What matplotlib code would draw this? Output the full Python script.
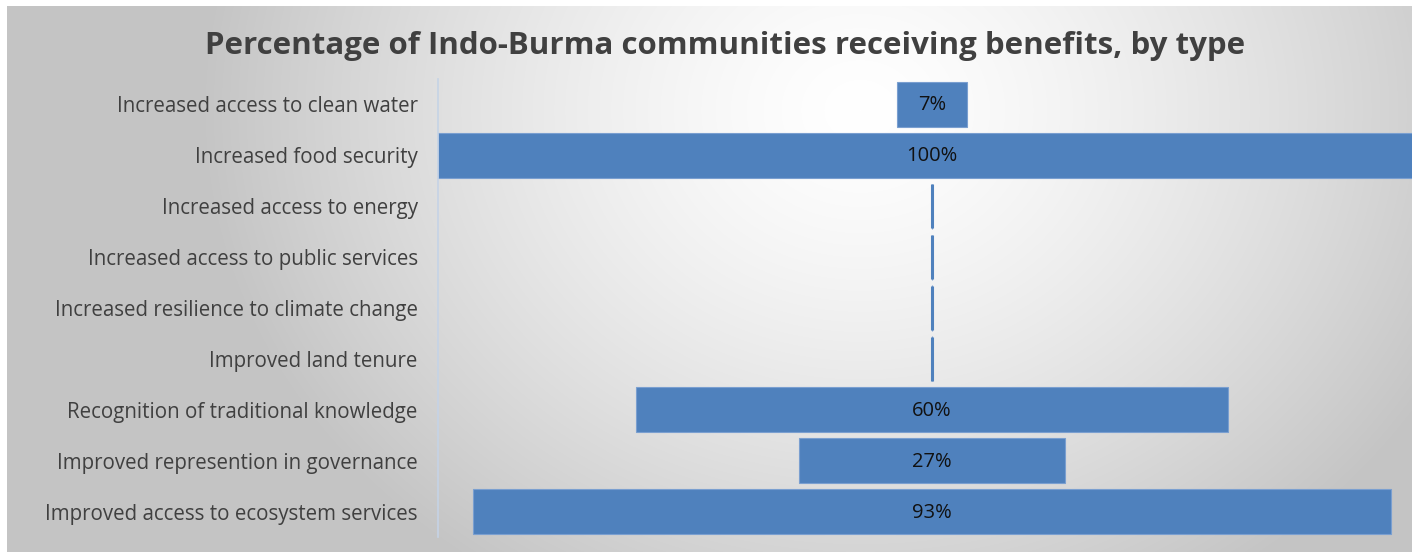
import numpy as np
import matplotlib
matplotlib.use("Agg")
import matplotlib.pyplot as plt

categories = [
    "Increased access to clean water",
    "Increased food security",
    "Increased access to energy",
    "Increased access to public services",
    "Increased resilience to climate change",
    "Improved land tenure",
    "Recognition of traditional knowledge",
    "Improved represention in governance",
    "Improved access to ecosystem services",
]
percentages = [7, 100, 0, 0, 0, 0, 60, 27, 93]
title = "Percentage of Indo-Burma communities receiving benefits, by type"

W, H, DPI = 1412, 554, 100
fig = plt.figure(figsize=(W / DPI, H / DPI), dpi=DPI)
fig.patch.set_facecolor("white")

# radial grey background of the chart area
yy, xx = np.mgrid[0:H, 0:W]
r = np.sqrt(((xx - 860) / 660.0) ** 2 + ((yy - 110) / 560.0) ** 2)
t = np.clip(r, 0, 1) ** 1.4
lo = np.array([0.77, 0.77, 0.77])
bg = (1 - t)[..., None] * np.array([1.0, 1.0, 1.0]) + t[..., None] * lo
bg[:6, :, :] = 1.0
bg[:, :7, :] = 1.0
bg[552:, :, :] = 1.0
bax = fig.add_axes([0, 0, 1, 1], zorder=0)
bax.imshow(bg, aspect="auto", interpolation="bilinear")
bax.axis("off")

left = 438 / W
width = 988 / W
bottom = 1 - 537 / H
top = 1 - 79 / H
ax = fig.add_axes([left, bottom, width, top - bottom], zorder=1)
ax.patch.set_alpha(0)

n = len(categories)
ypos = np.arange(n)
bar_color = "#4f81bd"
vals = np.array(percentages, dtype=float)
ax.barh(ypos, vals, left=-vals / 2, height=0.885, color=bar_color,
        edgecolor="#7a9fd0", linewidth=0.8)
for y, v in zip(ypos, vals):
    if v == 0:
        ax.plot([0, 0], [y - 0.43, y + 0.43], color=bar_color, lw=2.2,
                solid_capstyle="butt")
    else:
        ax.text(0, y + 0.02, f"{int(v)}%", ha="center", va="center",
                fontsize=14.5, color="#111111", family="Open Sans")

ax.set_xlim(-50, 50)
ax.set_ylim(n - 0.5, -0.5)
ax.set_xticks([])
ax.set_yticks([])
for s in ["top", "right", "bottom"]:
    ax.spines[s].set_visible(False)
ax.spines["left"].set_color("#c5d3e6")
ax.spines["left"].set_linewidth(1.2)

for y, c in zip(ypos, categories):
    ax.text(-0.0205, y + 0.05, c, transform=ax.get_yaxis_transform(),
            ha="right", va="center", fontsize=14.8, color="#404040",
            family="Open Sans")

fig.text(725 / W, 1 - 46 / H, title, ha="center", va="center",
         fontsize=22.5, fontweight="bold", color="#404040", family="Open Sans")

fig.savefig("out.png", dpi=DPI)
